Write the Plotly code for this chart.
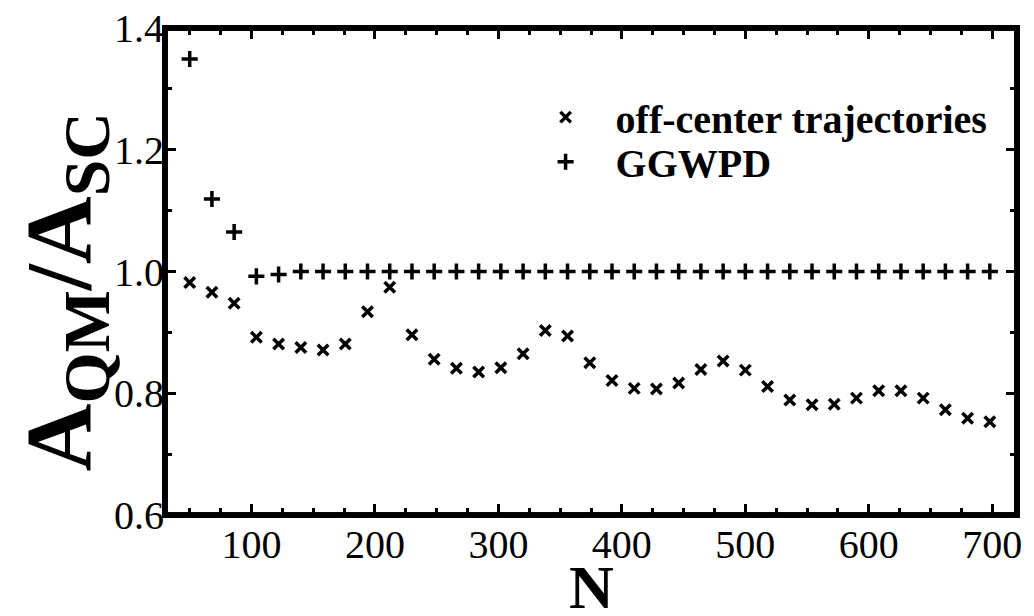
import plotly.graph_objects as go

N = [50, 68, 86, 104, 122, 140, 158, 176, 194, 212, 230, 248,
     266, 284, 302, 320, 338, 356, 374, 392, 410, 428, 446, 464, 482,
     500, 518, 536, 554, 572, 590, 608, 626, 644, 662, 680, 698]

off_center = [0.982, 0.966, 0.948, 0.892, 0.881, 0.875, 0.871, 0.881, 0.934, 0.974, 0.896, 0.856,
              0.841, 0.835, 0.842, 0.865, 0.903, 0.894, 0.850, 0.821, 0.808, 0.807, 0.817, 0.839, 0.853,
              0.838, 0.811, 0.789, 0.781, 0.782, 0.792, 0.804, 0.804, 0.792, 0.773, 0.759, 0.753]

ggwpd = [1.349, 1.119, 1.065, 0.992, 0.995, 1.0, 1.0, 1.0, 1.0, 1.0, 1.0, 1.0,
         1.0, 1.0, 1.0, 1.0, 1.0, 1.0, 1.0, 1.0, 1.0, 1.0, 1.0, 1.0, 1.0,
         1.0, 1.0, 1.0, 1.0, 1.0, 1.0, 1.0, 1.0, 1.0, 1.0, 1.0, 1.0]

x_ticks = [100, 200, 300, 400, 500, 600, 700]
y_ticks = [0.6, 0.8, 1.0, 1.2, 1.4]
y_ticklabels = ["0.6", "0.8", "1.0", "1.2", "1.4"]

X_RANGE = [30, 720]
Y_RANGE = [0.6, 1.4]

FONT = "Liberation Serif"

W, H = 1034, 616
M_L, M_R, M_T, M_B = 165, 17, 28, 101
PLOT_W = W - M_L - M_R
PLOT_H = H - M_T - M_B
FRAME_T = 5.5  # frame thickness in px
dx = FRAME_T / 2 / PLOT_W
dy = FRAME_T / 2 / PLOT_H

fig = go.Figure()
fig.add_trace(go.Scatter(
    x=N, y=off_center, mode="markers", name="<b>\u00a0\u00a0\u00a0off-center trajectories</b>",
    marker=dict(symbol="x-thin", size=10.5, color="black", line=dict(width=3.5, color="black")),
    legend="legend",
))
fig.add_trace(go.Scatter(
    x=N, y=ggwpd, mode="markers", name="<b>\u00a0\u00a0\u00a0GGWPD</b>",
    marker=dict(symbol="cross-thin", size=11.5, color="black", line=dict(width=3.5, color="black")),
    legend="legend2",
))
# plot frame along the axis range limits
fig.add_trace(go.Scatter(
    x=[X_RANGE[0], X_RANGE[1], X_RANGE[1], X_RANGE[0], X_RANGE[0]],
    y=[Y_RANGE[0], Y_RANGE[0], Y_RANGE[1], Y_RANGE[1], Y_RANGE[0]],
    mode="lines", line=dict(color="black", width=FRAME_T),
    cliponaxis=False, showlegend=False, hoverinfo="skip",
))

axis_common = dict(
    showline=False, mirror="allticks", automargin=False,
    ticks="inside", ticklen=11, tickwidth=3, tickcolor="black",
    showgrid=False, zeroline=False,
    tickfont=dict(family=FONT, size=40, color="black"),
)

# frame drawn as four filled bars (no stroke)
frame_bars = [
    (-dx, dx, -dy, 1 + dy),          # left
    (1 - dx, 1 + dx, -dy, 1 + dy),   # right
    (-dx, 1 + dx, -dy, dy),          # bottom
    (-dx, 1 + dx, 1 - dy, 1 + dy),   # top
]
shapes = [dict(type="rect", xref="paper", yref="paper", x0=a, x1=b, y0=c, y1=d,
               fillcolor="black", line=dict(width=0), layer="above")
          for a, b, c, d in frame_bars]

fig.update_layout(
    width=W, height=H,
    margin=dict(l=M_L, r=M_R, t=M_T, b=M_B),
    paper_bgcolor="white", plot_bgcolor="white",
    showlegend=True,
    legend=dict(x=0.4467, y=0.817, xanchor="left", yanchor="middle",
                bgcolor="rgba(0,0,0,0)", borderwidth=0,
                font=dict(family=FONT, size=40, color="black")),
    legend2=dict(x=0.4467, y=0.7255, xanchor="left", yanchor="middle",
                 bgcolor="rgba(0,0,0,0)", borderwidth=0,
                 font=dict(family=FONT, size=40, color="black")),
    xaxis=dict(range=X_RANGE, tickvals=x_ticks, ticktext=[str(v) for v in x_ticks],
               minor=dict(dtick=25, tick0=0, ticks="inside", ticklen=7, tickwidth=3, tickcolor="black"),
               ticklabelstandoff=2,
               **axis_common),
    yaxis=dict(range=Y_RANGE, tickvals=y_ticks, ticktext=y_ticklabels,
               minor=dict(dtick=0.1, tick0=0, ticks="inside", ticklen=7, tickwidth=3, tickcolor="black"),
               ticklabelstandoff=0,
               **axis_common),
    shapes=shapes,
    annotations=[
        dict(text="\u00a0", xref="paper", yref="paper", x=0.5, y=0.5,
             xanchor="center", yanchor="middle", showarrow=False,
             width=PLOT_W - FRAME_T, height=PLOT_H - FRAME_T,
             borderwidth=FRAME_T, borderpad=0, bordercolor="black",
             bgcolor="rgba(0,0,0,0)", font=dict(size=10)),
        dict(text="<b>A<sub>QM</sub>/A<sub>SC</sub></b>",
             textangle=-90, xref="paper", yref="paper", x=-0.118, y=0.458,
             xanchor="center", yanchor="middle", showarrow=False,
             font=dict(family=FONT, size=94, color="black")),
        dict(text="<b>N</b>", xref="paper", yref="paper", x=0.5, y=-0.148,
             xanchor="center", yanchor="middle", showarrow=False,
             font=dict(family=FONT, size=62, color="black")),
    ],
)

fig.write_html("out.html")
